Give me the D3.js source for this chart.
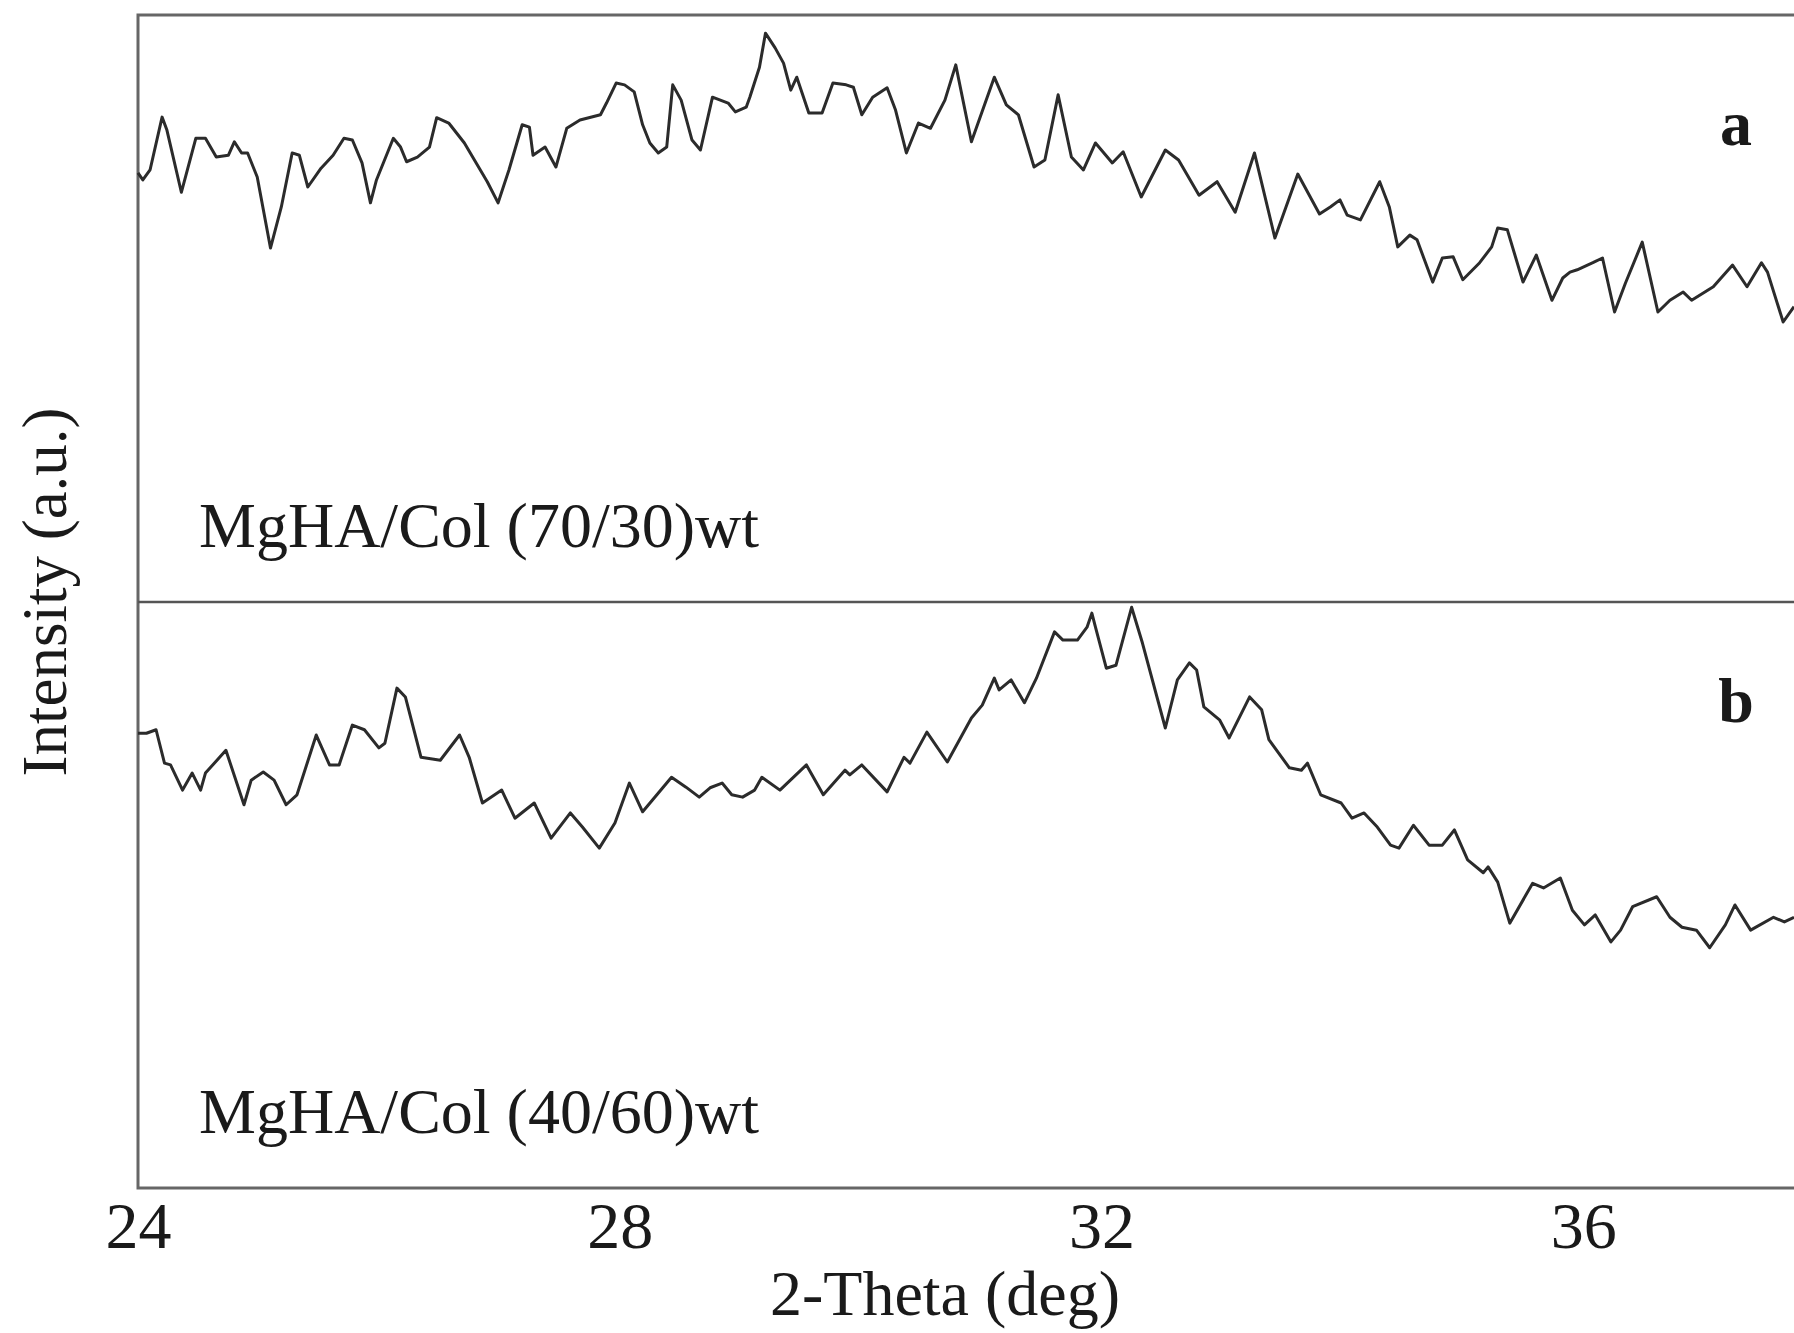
<!DOCTYPE html>
<html>
<head>
<meta charset="utf-8">
<script src="https://cdn.jsdelivr.net/npm/d3@7"></script>
<style>
	html, body { margin: 0; padding: 0; background: #fff; }
	svg { display: block; }
	text { font-family: "Liberation Serif", "Times New Roman", serif; fill: #1a1a1a; }
</style>
</head>
<body>
<div id="chart"></div>
<script>
"use strict";

const width = 1794, height = 1333;

//---- Data (2-theta in deg, intensity in a.u. scaled 0-100 inside each panel)
const thetaA = [24.00, 24.04, 24.10, 24.20, 24.24, 24.36, 24.41, 24.48, 24.56, 24.65, 24.75, 24.80, 24.86, 24.91, 24.99,
	25.10, 25.19, 25.28, 25.34, 25.41, 25.52, 25.62, 25.71, 25.78, 25.86, 25.93, 25.98, 26.12, 26.18, 26.23,
	26.32, 26.42, 26.48, 26.58, 26.71, 26.90, 26.99, 27.08, 27.19, 27.25, 27.28, 27.38, 27.47, 27.56, 27.67,
	27.84, 27.89, 27.97, 28.04, 28.12, 28.19, 28.25, 28.32, 28.39, 28.44, 28.51, 28.60, 28.67, 28.77, 28.90,
	28.96, 29.05, 29.08, 29.16, 29.21, 29.29, 29.36, 29.42, 29.47, 29.57, 29.68, 29.77, 29.88, 29.94, 30.01,
	30.10, 30.22, 30.29, 30.38, 30.48, 30.58, 30.70, 30.79, 30.92, 31.11, 31.21, 31.31, 31.44, 31.53, 31.64,
	31.75, 31.85, 31.95, 32.09, 32.18, 32.33, 32.53, 32.64, 32.81, 32.96, 33.11, 33.27, 33.44, 33.63, 33.81,
	33.90, 33.98, 34.04, 34.15, 34.31, 34.39, 34.46, 34.56, 34.62, 34.75, 34.83, 34.92, 35.00, 35.14, 35.24,
	35.29, 35.37, 35.50, 35.61, 35.74, 35.83, 35.89, 35.95, 36.08, 36.16, 36.26, 36.35, 36.49, 36.62, 36.72,
	36.83, 36.90, 37.01, 37.08, 37.24, 37.36, 37.48, 37.53, 37.66, 37.75];
const intensityA = [73.1, 71.9, 73.6, 82.6, 80.4, 69.8, 73.6, 79.0, 79.0, 75.8, 76.1, 78.4, 76.5, 76.5, 72.4,
	60.3, 67.3, 76.5, 76.1, 70.7, 73.9, 76.1, 79.0, 78.7, 74.8, 68.0, 71.9, 79.0, 77.5, 75.0,
	75.8, 77.5, 82.5, 81.6, 78.2, 71.6, 68.0, 73.6, 81.3, 80.9, 76.1, 77.5, 74.1, 80.7, 82.1,
	83.0, 85.0, 88.4, 88.1, 86.9, 81.3, 78.2, 76.5, 77.5, 88.1, 85.5, 78.7, 77.0, 86.0, 85.0,
	83.5, 84.3, 86.0, 91.1, 96.9, 94.4, 91.8, 87.2, 89.4, 83.3, 83.3, 88.4, 88.1, 87.7, 83.0,
	86.0, 87.6, 83.8, 76.5, 81.6, 80.7, 85.5, 91.5, 78.4, 89.4, 84.7, 83.0, 74.1, 75.3, 86.4,
	75.8, 73.6, 78.2, 74.8, 76.7, 69.0, 77.0, 75.3, 69.3, 71.6, 66.4, 76.5, 62.0, 72.9, 66.1,
	67.3, 68.5, 65.9, 65.1, 71.6, 67.3, 60.5, 62.5, 61.7, 54.5, 58.6, 58.8, 54.9, 57.8, 60.5,
	63.7, 63.4, 54.5, 59.1, 51.4, 55.2, 56.2, 56.6, 57.8, 58.6, 49.4, 54.3, 61.3, 49.4, 51.4,
	52.8, 51.4, 52.8, 53.7, 57.4, 53.7, 57.8, 56.2, 47.7, 50.3];

const thetaB = [24.00, 24.07, 24.15, 24.22, 24.27, 24.37, 24.45, 24.52, 24.56, 24.73, 24.88, 24.94, 25.04, 25.13, 25.23,
	25.32, 25.48, 25.59, 25.67, 25.78, 25.88, 26.00, 26.05, 26.15, 26.22, 26.35, 26.51, 26.67, 26.75, 26.86,
	27.02, 27.13, 27.29, 27.43, 27.59, 27.69, 27.83, 27.96, 28.08, 28.19, 28.43, 28.55, 28.66, 28.75, 28.85,
	28.93, 29.02, 29.12, 29.18, 29.33, 29.55, 29.69, 29.87, 29.91, 30.01, 30.22, 30.36, 30.41, 30.55, 30.72,
	30.92, 31.01, 31.11, 31.15, 31.25, 31.36, 31.46, 31.61, 31.68, 31.80, 31.88, 31.92, 31.95, 32.04, 32.12,
	32.25, 32.34, 32.53, 32.63, 32.73, 32.79, 32.85, 32.98, 33.06, 33.23, 33.33, 33.39, 33.56, 33.66, 33.71,
	33.82, 33.99, 34.08, 34.18, 34.29, 34.40, 34.47, 34.59, 34.72, 34.83, 34.93, 35.04, 35.17, 35.21, 35.29,
	35.39, 35.58, 35.67, 35.81, 35.91, 36.01, 36.10, 36.23, 36.31, 36.41, 36.61, 36.72, 36.82, 36.94, 37.05,
	37.18, 37.26, 37.39, 37.58, 37.67, 37.75];
const intensityB = [77.6, 77.6, 78.2, 72.5, 72.2, 67.9, 70.8, 67.9, 70.8, 74.7, 65.4, 69.6, 71.0, 69.6, 65.4,
	67.1, 77.3, 72.2, 72.2, 79.0, 78.2, 75.1, 75.9, 85.3, 83.8, 73.5, 73.0, 77.3, 73.5, 65.7,
	67.9, 63.1, 65.7, 59.7, 64.0, 61.6, 58.0, 62.3, 69.1, 64.2, 70.1, 68.4, 66.7, 68.3, 69.1,
	67.1, 66.7, 67.9, 70.1, 67.9, 72.2, 67.1, 71.3, 70.5, 72.2, 67.6, 73.5, 72.5, 77.8, 72.7,
	80.2, 82.4, 87.0, 85.0, 86.7, 82.8, 87.0, 94.9, 93.5, 93.5, 95.7, 98.1, 95.7, 88.7, 89.2,
	99.1, 93.0, 78.5, 86.7, 89.6, 88.4, 82.1, 79.9, 76.8, 83.8, 81.6, 76.5, 71.7, 71.3, 72.5,
	67.1, 65.7, 63.1, 64.0, 61.6, 58.5, 58.0, 61.9, 58.5, 58.5, 61.1, 56.0, 53.8, 54.8, 52.2,
	45.2, 52.0, 51.2, 52.9, 47.4, 44.9, 46.6, 42.0, 44.0, 48.0, 49.7, 46.2, 44.5, 44.0, 41.0,
	44.9, 48.3, 44.0, 46.2, 45.4, 46.2];

const xTicks = [24, 28, 32, 36];
const panelLabels = ['a', 'b'];
const sampleNames = ['MgHA/Col (70/30)wt', 'MgHA/Col (40/60)wt'];

//---- Layout
const plotLeft = 138, plotTop = 15, plotRight = 1794, plotBottom = 1188;
const plotMid = 602;

let svg = d3.select('#chart').append('svg')
	.attr('width', width)
	.attr('height', height);

let x = d3.scaleLinear().domain([24, 37.75]).range([plotLeft, plotRight]);
let yA = d3.scaleLinear().domain([0, 100]).range([plotMid, plotTop]);
let yB = d3.scaleLinear().domain([0, 100]).range([plotBottom, plotMid]);

//---- Frame (right side runs off the picture)
svg.append('rect')
	.attr('x', plotLeft)
	.attr('y', plotTop)
	.attr('width', 1720)
	.attr('height', plotBottom - plotTop)
	.attr('fill', 'none')
	.attr('stroke', '#666')
	.attr('stroke-width', 3);

svg.append('line')
	.attr('x1', plotLeft).attr('x2', width + 10)
	.attr('y1', plotMid).attr('y2', plotMid)
	.attr('stroke', '#555')
	.attr('stroke-width', 2.5);

//---- Curves
const series = [
	{ theta: thetaA, intensity: intensityA, y: yA },
	{ theta: thetaB, intensity: intensityB, y: yB }
];

series.forEach(s => {
	let pts = s.theta.map((t, i) => [t, s.intensity[i]]);
	svg.append('path')
		.datum(pts)
		.attr('fill', 'none')
		.attr('stroke', '#2b2b2b')
		.attr('stroke-width', 3)
		.attr('stroke-linejoin', 'round')
		.attr('d', d3.line().x(d => x(d[0])).y(d => s.y(d[1])));
});

//---- Axis
let axis = svg.append('g')
	.attr('transform', `translate(0,${plotBottom})`)
	.call(d3.axisBottom(x).tickValues(xTicks).tickSize(0).tickPadding(13).tickFormat(d3.format('d')));
axis.select('.domain').remove();
axis.selectAll('text')
	.style('font-size', '66px')
	.style('font-family', '"Liberation Serif", "Times New Roman", serif')
	.attr('fill', '#1a1a1a');

svg.append('text')
	.attr('x', 945)
	.attr('y', 1315)
	.attr('text-anchor', 'middle')
	.style('font-size', '64px')
	.text('2-Theta (deg)');

svg.append('text')
	.attr('transform', 'translate(66,592) rotate(-90)')
	.attr('text-anchor', 'middle')
	.style('font-size', '63px')
	.text('Intensity (a.u.)');

//---- Annotations
[yA, yB].forEach((y, i) => {
	svg.append('text')
		.attr('x', 199)
		.attr('y', y(0) - 55)
		.style('font-size', '64px')
		.text(sampleNames[i]);

	svg.append('text')
		.attr('x', 1736)
		.attr('y', y(100) + (i === 0 ? 130 : 120))
		.attr('text-anchor', 'middle')
		.style('font-size', '64px')
		.style('font-weight', 'bold')
		.text(panelLabels[i]);
});
</script>
</body>
</html>
